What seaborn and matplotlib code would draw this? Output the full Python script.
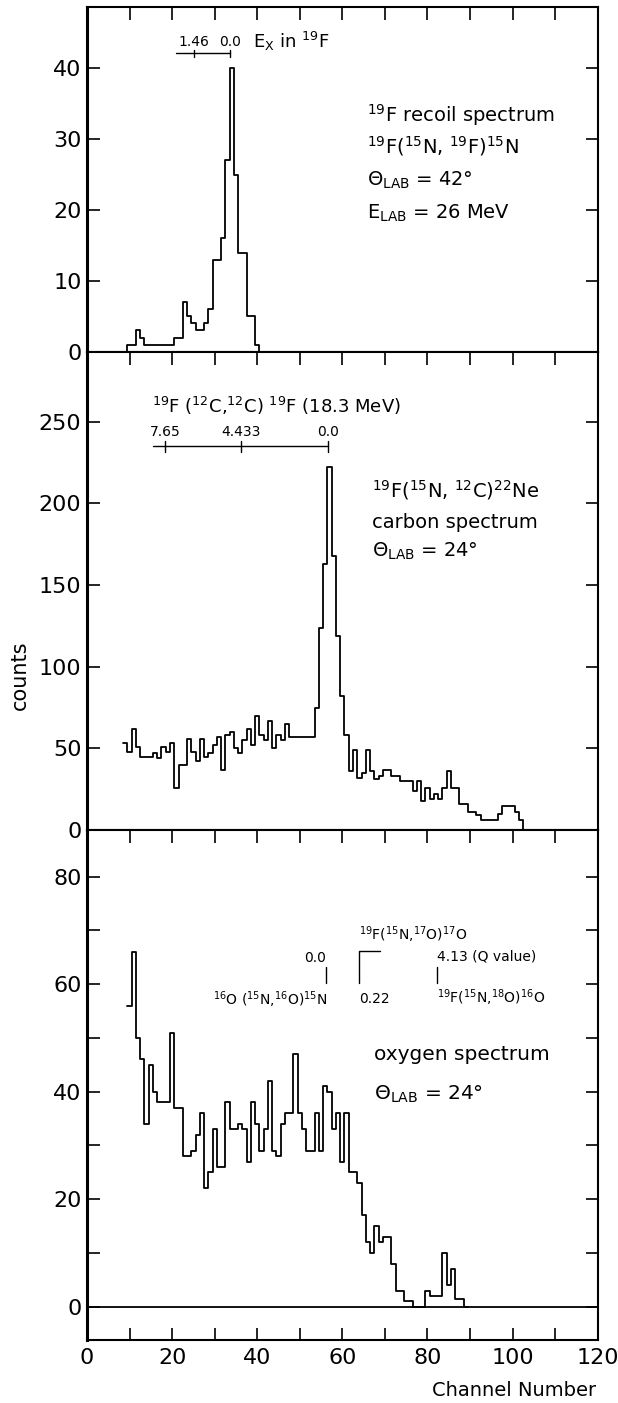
import numpy as np
import pandas as pd
import seaborn as sns
import matplotlib
matplotlib.use("Agg")
import matplotlib.pyplot as plt

# ---------------- data ----------------
# top panel: 19F recoil spectrum (channels 9..41)
recoil_channels = list(range(9, 42))
recoil_counts = [0, 1, 1, 3, 2, 1, 1, 1, 1, 1, 1, 1, 2, 2, 7, 5, 4, 3, 3, 4, 6,
                 13, 13, 16, 27, 40, 25, 14, 14, 5, 5, 1, 0]

# middle panel: carbon spectrum (channels 9..103)
carbon_channels = list(range(9, 104))
carbon_counts = [53, 48, 62, 51, 45, 45, 45, 47, 44, 51, 48, 53, 26, 40, 40, 56,
                 48, 42, 56, 45, 47, 52, 57, 37, 58, 60, 50, 47, 55, 62, 52, 70,
                 58, 55, 67, 50, 58, 55, 65, 57, 57, 57, 57, 57, 57, 75, 124, 163,
                 222, 168, 119, 82, 58, 36, 49, 32, 35, 49, 36, 31, 33, 37, 37,
                 33, 33, 30, 30, 30, 24, 30, 18, 26, 19, 22, 19, 26, 36, 26, 26,
                 16, 16, 11, 11, 9, 6, 6, 6, 6, 10, 15, 15, 15, 11, 6, 0]

# bottom panel: oxygen spectrum (channels 10..89)
oxygen_channels = list(range(10, 90))
oxygen_counts = [56, 66, 50, 46, 34, 45, 40, 38, 38, 38, 51, 37, 37, 28, 28, 29,
                 32, 36, 22, 25, 33, 26, 26, 38, 33, 33, 34, 33, 27, 38, 34, 29,
                 33, 42, 29, 28, 34, 36, 36, 47, 36, 33, 29, 29, 36, 29, 41, 40,
                 33, 36, 27, 36, 25, 25, 23, 17, 12, 10, 15, 12, 13, 13, 8, 3,
                 3, 1, 1, 0, 0, 0, 3, 2, 2, 2, 10, 4, 7, 1.5, 1.5, 0]

xticks = list(range(0, 121, 10))
xticklabels = [str(v) if v % 20 == 0 else "" for v in xticks]
top_yticks = [0, 10, 20, 30, 40]
mid_yticks = [0, 50, 100, 150, 200, 250]
bot_yticks = list(range(0, 81, 10))
bot_yticklabels = [str(v) if v % 20 == 0 else "" for v in bot_yticks]

# ---------------- style ----------------
sns.set_style("ticks")
plt.rcParams["font.family"] = ["DejaVu Sans"]
plt.rcParams["mathtext.default"] = "regular"
for key in ("text.color", "axes.labelcolor", "xtick.color", "ytick.color",
            "axes.edgecolor"):
    plt.rcParams[key] = "black"

W, H = 618, 1403
fig = plt.figure(figsize=(W / 100, H / 100), dpi=100)

left = 87 / W
width = (597.7 - 87) / W
ax_top = fig.add_axes([left, 1 - 351.7 / H, width, 345 / H])
ax_mid = fig.add_axes([left, 1 - 830 / H, width, 478.3 / H])
ax_bot = fig.add_axes([left, 1 - 1340 / H, width, 510 / H])

LW = 1.3
hist_kw = dict(discrete=True, element="step", fill=False, color="black",
               linewidth=LW)

sns.histplot(x=recoil_channels, weights=recoil_counts, ax=ax_top, **hist_kw)
sns.histplot(x=carbon_channels, weights=carbon_counts, ax=ax_mid, **hist_kw)
sns.histplot(x=oxygen_channels, weights=oxygen_counts, ax=ax_bot, **hist_kw)
ax_bot.axhline(0, color="black", linewidth=1.3, zorder=1)

for ax in (ax_top, ax_mid, ax_bot):
    ax.set_xlim(0, 120)
    ax.set_xticks(xticks)
    for s in ax.spines.values():
        s.set_visible(True)
        s.set_linewidth(1.5)
        s.set_color("black")
    ax.spines["left"].set_linewidth(2.2)
    ax.tick_params(axis="both", direction="in", length=9, width=1.2,
                   colors="black", labelsize=16, pad=4)
    ax.tick_params(axis="y", left=True, right=True)
    ax.set_xlabel("")
    ax.set_ylabel("")

for ax in (ax_top, ax_mid):
    ax.tick_params(axis="x", top=True, bottom=False, labelbottom=False)

ax_bot.tick_params(axis="x", top=True, bottom=True, labelbottom=True, pad=6)
ax_bot.set_xticklabels(xticklabels)

ax_top.set_ylim(0, 48.7)
ax_top.set_yticks(top_yticks)
ax_mid.set_ylim(0, 292.9)
ax_mid.set_yticks(mid_yticks)
ax_bot.set_ylim(-6.2, 88.7)
ax_bot.set_yticks(bot_yticks)
ax_bot.set_yticklabels(bot_yticklabels)

# ---------------- annotations ----------------
# top panel
ax_top.plot([21.0, 33.5], [42.1, 42.1], color="black", lw=1.0)
for xv in (25.1, 33.5):
    ax_top.plot([xv, xv], [41.6, 42.6], color="black", lw=1.0)
ax_top.text(25.1, 43.1, "1.46", ha="center", va="baseline", fontsize=10)
ax_top.text(33.5, 43.1, "0.0", ha="center", va="baseline", fontsize=10)
ax_top.text(39.0, 42.9, "E$_X$ in $^{19}$F", ha="left", va="baseline",
            fontsize=13)
top_lines = ["$^{19}$F recoil spectrum",
             "$^{19}$F($^{15}$N, $^{19}$F)$^{15}$N",
             "Θ$_{LAB}$ = 42°",
             "E$_{LAB}$ = 26 MeV"]
for txt, yv in zip(top_lines, [32.5, 28.0, 23.5, 18.8]):
    ax_top.text(65.8, yv, txt, ha="left", va="baseline", fontsize=14)

# middle panel
ax_mid.text(15.3, 255.2, "$^{19}$F ($^{12}$C,$^{12}$C) $^{19}$F (18.3 MeV)",
            ha="left", va="baseline", fontsize=13)
ax_mid.plot([15.4, 56.6], [235.2, 235.2], color="black", lw=1.0)
for xv, lab in zip([18.4, 36.2, 56.6], ["7.65", "4.433", "0.0"]):
    ax_mid.plot([xv, xv], [231.7, 238.4], color="black", lw=1.0)
    ax_mid.text(xv, 241.3, lab, ha="center", va="baseline", fontsize=10)
mid_lines = ["$^{19}$F($^{15}$N, $^{12}$C)$^{22}$Ne",
             "carbon spectrum",
             "Θ$_{LAB}$ = 24°"]
for txt, yv in zip(mid_lines, [204, 185, 167.4]):
    ax_mid.text(67.0, yv, txt, ha="left", va="baseline", fontsize=14)

# bottom panel
ax_bot.text(56.2, 64.2, "0.0", ha="right", va="baseline", fontsize=10)
ax_bot.plot([56.2, 56.2], [60.2, 63.3], color="black", lw=1.0)
ax_bot.text(56.4, 56.1, "$^{16}$O ($^{15}$N,$^{16}$O)$^{15}$N", ha="right",
            va="baseline", fontsize=10)
ax_bot.plot([68.9, 64.0, 64.0], [66.2, 66.2, 60.2], color="black", lw=1.0)
ax_bot.text(64.0, 68.2, "$^{19}$F($^{15}$N,$^{17}$O)$^{17}$O", ha="left",
            va="baseline", fontsize=10)
ax_bot.text(64.0, 56.5, "0.22", ha="left", va="baseline", fontsize=10)
ax_bot.text(82.2, 64.5, "4.13 (Q value)", ha="left", va="baseline",
            fontsize=10)
ax_bot.plot([82.2, 82.2], [60.2, 63.3], color="black", lw=1.0)
ax_bot.text(82.2, 56.5, "$^{19}$F($^{15}$N,$^{18}$O)$^{16}$O", ha="left",
            va="baseline", fontsize=10)
ax_bot.text(67.5, 45.9, "oxygen spectrum", ha="left", va="baseline",
            fontsize=14.5)
ax_bot.text(67.5, 38.5, "Θ$_{LAB}$ = 24°", ha="left", va="baseline",
            fontsize=14.5)

fig.text(20 / W, 1 - 675 / H, "counts", rotation=90, ha="center",
         va="center", fontsize=15)
fig.text(596 / W, 1 - 1390 / H, "Channel Number", ha="right", va="center",
         fontsize=14)

fig.savefig("out.png", dpi=100)
